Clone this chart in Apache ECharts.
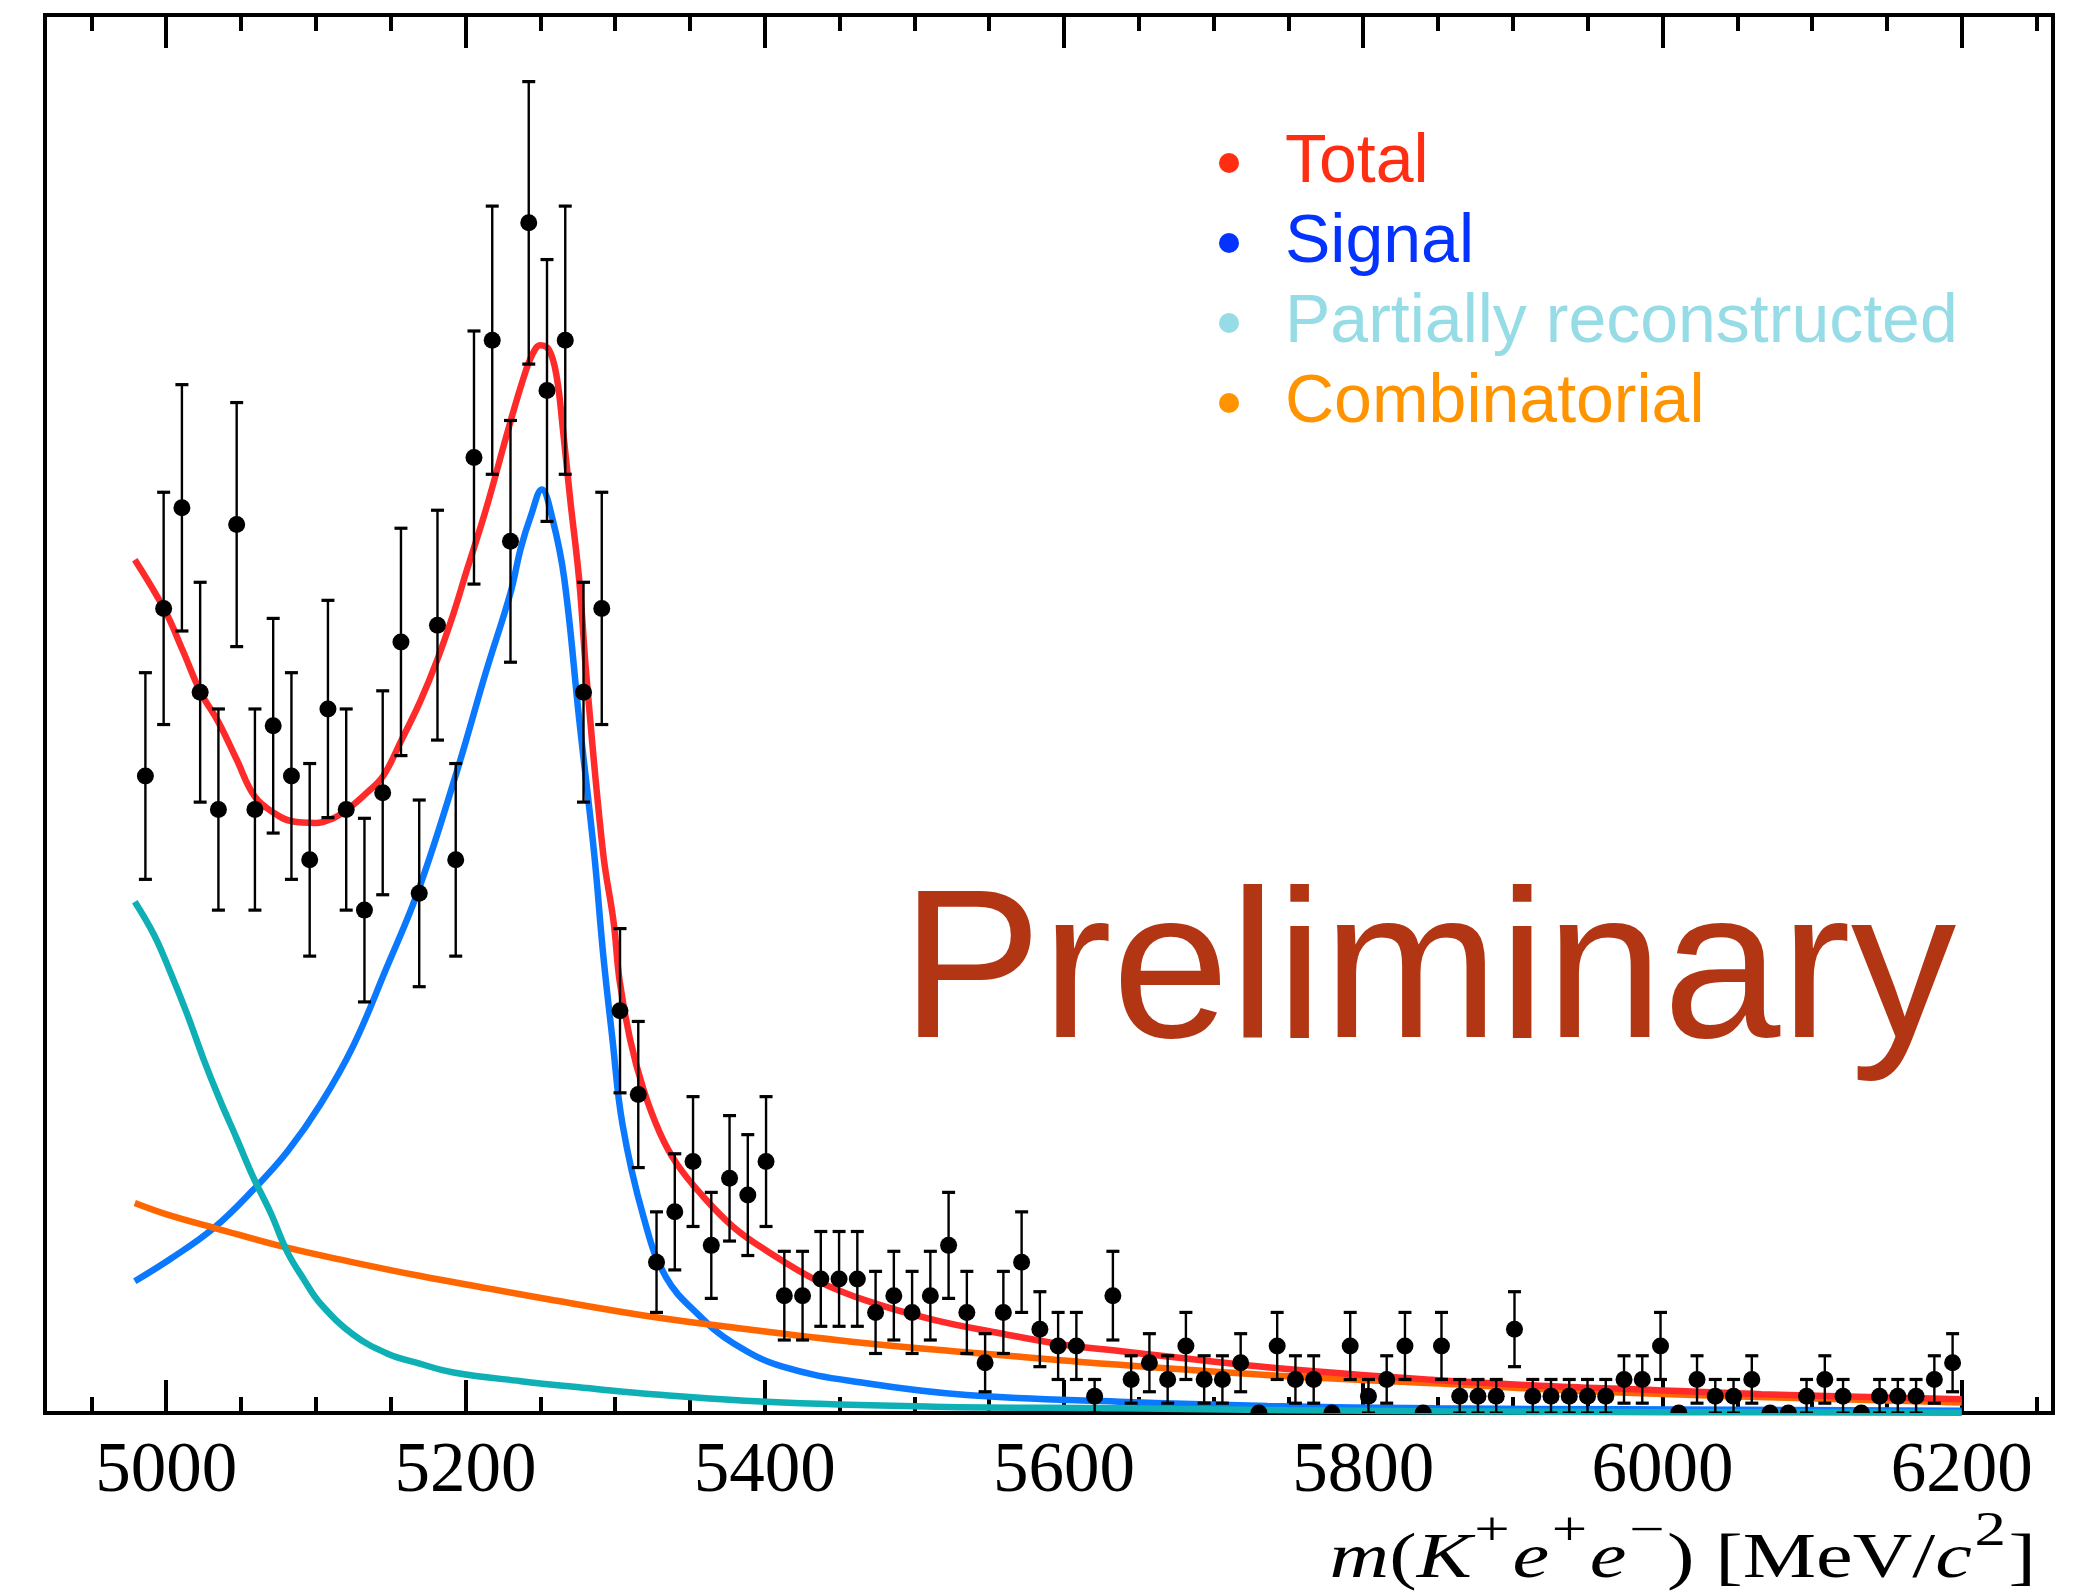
<!DOCTYPE html>
<html>
<head>
<meta charset="utf-8">
<title>m(K+e+e-) fit</title>
<script src="https://cdn.jsdelivr.net/npm/echarts@6/dist/echarts.min.js"></script>
<style>
  html, body { margin: 0; padding: 0; background: #ffffff; }
  #chart { width: 2073px; height: 1593px; }
</style>
</head>
<body>
<div id="chart"></div>
<script>
// Histogram binning of the candidate mass (MeV/c^2)
const BIN_LOW = 4980;
const BIN_WIDTH = 12.2;

// Candidates per bin
const candidateCounts = [
  38, 48, 54, 43, 36, 53, 36, 41, 38, 33, 42, 36, 30, 37, 46, 31, 47, 33, 57, 64,
  52, 71, 61, 64, 43, 48, 24, 19, 9, 12, 15, 10, 14, 13, 15, 7, 7, 8, 8, 8,
  6, 7, 6, 7, 10, 6, 3, 6, 9, 5, 4, 4, 1, 7, 2, 3, 2, 4, 2, 2,
  3, 0, 4, 2, 2, 0, 4, 1, 2, 4, 0, 4, 1, 1, 1, 5, 1, 1, 1, 1,
  1, 2, 2, 4, 0, 2, 1, 1, 2, 0, 0, 1, 2, 1, 0, 1, 1, 1, 2, 3
];

// Fit components, sampled as [mass, candidates per bin]
const totalFit = [
  [4979, 50.9], [4999, 47.9], [5011, 45.5], [5023, 43.0], [5035, 41.2], [5047, 39.0],
  [5059, 36.8], [5072, 35.8], [5084, 35.3], [5100, 35.2], [5112, 35.5], [5121, 36.0],
  [5134, 37.0], [5145, 38.0], [5157, 40.1], [5170, 42.5], [5181, 44.9], [5192, 47.7],
  [5201, 50.3], [5214, 54.0], [5229, 58.8], [5239, 61.8], [5245, 63.2], [5250, 63.7],
  [5256, 63.4], [5261, 61.8], [5265, 58.8], [5270, 54.5], [5276, 49.7], [5281, 43.8],
  [5292, 33.4], [5299, 29.3], [5303, 25.8], [5310, 22.3], [5319, 19.3], [5330, 16.7],
  [5341, 14.9], [5357, 13.1], [5379, 11.1], [5401, 9.7], [5435, 7.9], [5468, 6.7],
  [5513, 5.55], [5557, 4.76], [5601, 4.06], [5637, 3.7], [5736, 2.73], [5848, 1.97],
  [5933, 1.57], [5973, 1.45], [6066, 1.12], [6200, 0.82]
];
const signalFit = [
  [4979, 7.86], [5003, 9.2], [5032, 11.05], [5058, 13.3], [5081, 15.6], [5103, 18.4],
  [5125, 21.9], [5147, 26.5], [5169, 31.3], [5194, 38.2], [5214, 44.3], [5230, 48.9],
  [5237, 51.6], [5244, 53.6], [5251, 55.1], [5258, 53.4], [5266, 49.8], [5276, 41.4],
  [5286, 33.4], [5292, 27.4], [5298, 22.5], [5305, 17.2], [5319, 11.7], [5334, 8.1],
  [5357, 5.75], [5379, 4.16], [5412, 2.76], [5468, 1.77], [5535, 1.07], [5637, 0.67],
  [5736, 0.42], [5848, 0.28], [5972, 0.22], [6200, 0.14]
];
const partRecoFit = [
  [4979, 30.5], [4992, 28.5], [5003, 26.25], [5014, 23.8], [5025, 21.1], [5036, 18.65],
  [5047, 16.4], [5058, 14.1], [5070, 11.9], [5081, 9.6], [5092, 7.97], [5103, 6.53],
  [5125, 4.68], [5148, 3.54], [5170, 2.93], [5192, 2.42], [5237, 1.9], [5281, 1.49],
  [5317, 1.18], [5401, 0.67], [5513, 0.38], [5637, 0.28], [5750, 0.17], [5850, 0.1],
  [6000, 0.05], [6200, 0.02]
];
const combinatorialFit = [
  [4979, 12.53], [5003, 11.77], [5032, 11.05], [5078, 9.92], [5125, 8.99], [5170, 8.17],
  [5214, 7.45], [5259, 6.73], [5317, 5.85], [5370, 5.2], [5468, 4.16], [5557, 3.46],
  [5630, 2.92], [5735, 2.27], [5847, 1.77], [5971, 1.22], [6200, 0.62]
];

// Axis ticks
const majorTicks = [5000, 5200, 5400, 5600, 5800, 6000, 6200];
const minorTicks = [4950, 5050, 5100, 5150, 5250, 5300, 5350, 5450, 5500, 5550,
                    5650, 5700, 5750, 5850, 5900, 5950, 6050, 6100, 6150, 6250];

// Legend entries
const legendNames = ['Total', 'Signal', 'Partially reconstructed', 'Combinatorial'];
const legendColors = ['#FF2E12', '#0433FF', '#96DCE6', '#FF9300'];
const curveColors = ['#FF2A2A', '#0A78FF', '#0EAFB5', '#FF6600'];

const X_MIN = 4919, X_MAX = 6261, Y_MAX = 83.4;

const histPoints = candidateCounts.map((n, i) => [BIN_LOW + BIN_WIDTH * (i + 0.5), n]);

function renderPoint(params, api) {
  const x = api.value(0);
  const n = api.value(1);
  const c = api.coord([x, n]);
  const children = [];
  if (n > 0) {
    const err = Math.sqrt(n); // Poisson uncertainty
    const top = api.coord([x, n + err]);
    const bot = api.coord([x, n - err]);
    const cap = 6.5;
    children.push({ type: 'line', shape: { x1: c[0], y1: top[1], x2: c[0], y2: bot[1] },
      style: { stroke: '#000', lineWidth: 2.4 } });
    children.push({ type: 'line', shape: { x1: c[0] - cap, y1: top[1], x2: c[0] + cap, y2: top[1] },
      style: { stroke: '#000', lineWidth: 3.2 } });
    children.push({ type: 'line', shape: { x1: c[0] - cap, y1: bot[1], x2: c[0] + cap, y2: bot[1] },
      style: { stroke: '#000', lineWidth: 3.2 } });
  }
  children.push({ type: 'circle', shape: { cx: c[0], cy: c[1], r: 8.5 }, style: { fill: '#000' } });
  return { type: 'group', children };
}

function tickAxis(position, values, len, labels) {
  return {
    type: 'value', position, min: X_MIN, max: X_MAX,
    axisLine: { show: labels, onZero: false, lineStyle: { color: '#000', width: 4 } },
    axisTick: { show: true, inside: true, length: len, customValues: values,
      lineStyle: { color: '#000', width: 4 } },
    axisLabel: labels ? {
      show: true, customValues: values, margin: 24,
      fontFamily: 'Liberation Serif', fontSize: 71, color: '#000',
      formatter: v => String(v)
    } : { show: false },
    splitLine: { show: false }
  };
}

const serif = 'Liberation Serif';
const chart = echarts.init(document.getElementById('chart'), null, { renderer: 'canvas' });

const lineSeries = (name, data, color, z) => ({
  name, type: 'line', data, showSymbol: false, smooth: 0.4,
  clip: true, z, lineStyle: { color, width: 6.5 }, itemStyle: { color },
  emphasis: { disabled: true }
});

chart.setOption({
  animation: false,
  backgroundColor: '#ffffff',
  grid: { left: 45, top: 15, right: 20, bottom: 180, show: true,
    borderColor: '#000', borderWidth: 4, backgroundColor: 'transparent' },
  xAxis: [
    tickAxis('bottom', majorTicks, 33, true),
    tickAxis('bottom', minorTicks, 16, false),
    tickAxis('top', majorTicks, 33, false),
    tickAxis('top', minorTicks, 16, false)
  ],
  yAxis: { type: 'value', min: 0, max: Y_MAX, show: false, splitLine: { show: false } },
  legend: {
    orient: 'vertical', left: 1219, top: 129, padding: 0,
    itemWidth: 20, itemHeight: 20, itemGap: 12, icon: 'circle',
    selectedMode: false,
    textStyle: { fontFamily: 'Liberation Sans', fontSize: 68, lineHeight: 66, padding: [0, 0, 0, 41] },
    data: legendNames.map((name, i) => ({
      name, icon: 'circle',
      itemStyle: { color: legendColors[i], borderWidth: 0 },
      textStyle: { color: legendColors[i] }
    }))
  },
  graphic: [
    {
      type: 'text', x: 901, y: 979, z: 5,
      style: { text: 'Preliminary', font: '211px "Liberation Sans"', fill: '#B33614',
        align: 'left', verticalAlign: 'middle' }
    },
    {
      type: 'text', x: 2036, y: 1560, scaleX: 1.31, z: 5,
      style: {
        text: '{i|m}{r|(}{i|K}{s|+}{i|e}{s|+}{i|e}{s|\u2212}{r|) [MeV/}{i|c}{s|2}{r|]}',
        align: 'right', verticalAlign: 'middle', fill: '#000',
        rich: {
          i: { fontFamily: serif, fontStyle: 'italic', fontSize: 63, lineHeight: 63 },
          r: { fontFamily: serif, fontSize: 63, lineHeight: 63 },
          s: { fontFamily: serif, fontSize: 48, lineHeight: 48, padding: [0, 2, 56, 2] }
        }
      }
    }
  ],
  series: [
    lineSeries(legendNames[1], signalFit, curveColors[1], 2),
    lineSeries(legendNames[3], combinatorialFit, curveColors[3], 3),
    lineSeries(legendNames[2], partRecoFit, curveColors[2], 4),
    lineSeries(legendNames[0], totalFit, curveColors[0], 5),
    {
      name: 'Data', type: 'custom', renderItem: renderPoint, data: histPoints,
      clip: true, z: 10, encode: { x: 0, y: 1 }
    }
  ]
});
</script>
</body>
</html>
